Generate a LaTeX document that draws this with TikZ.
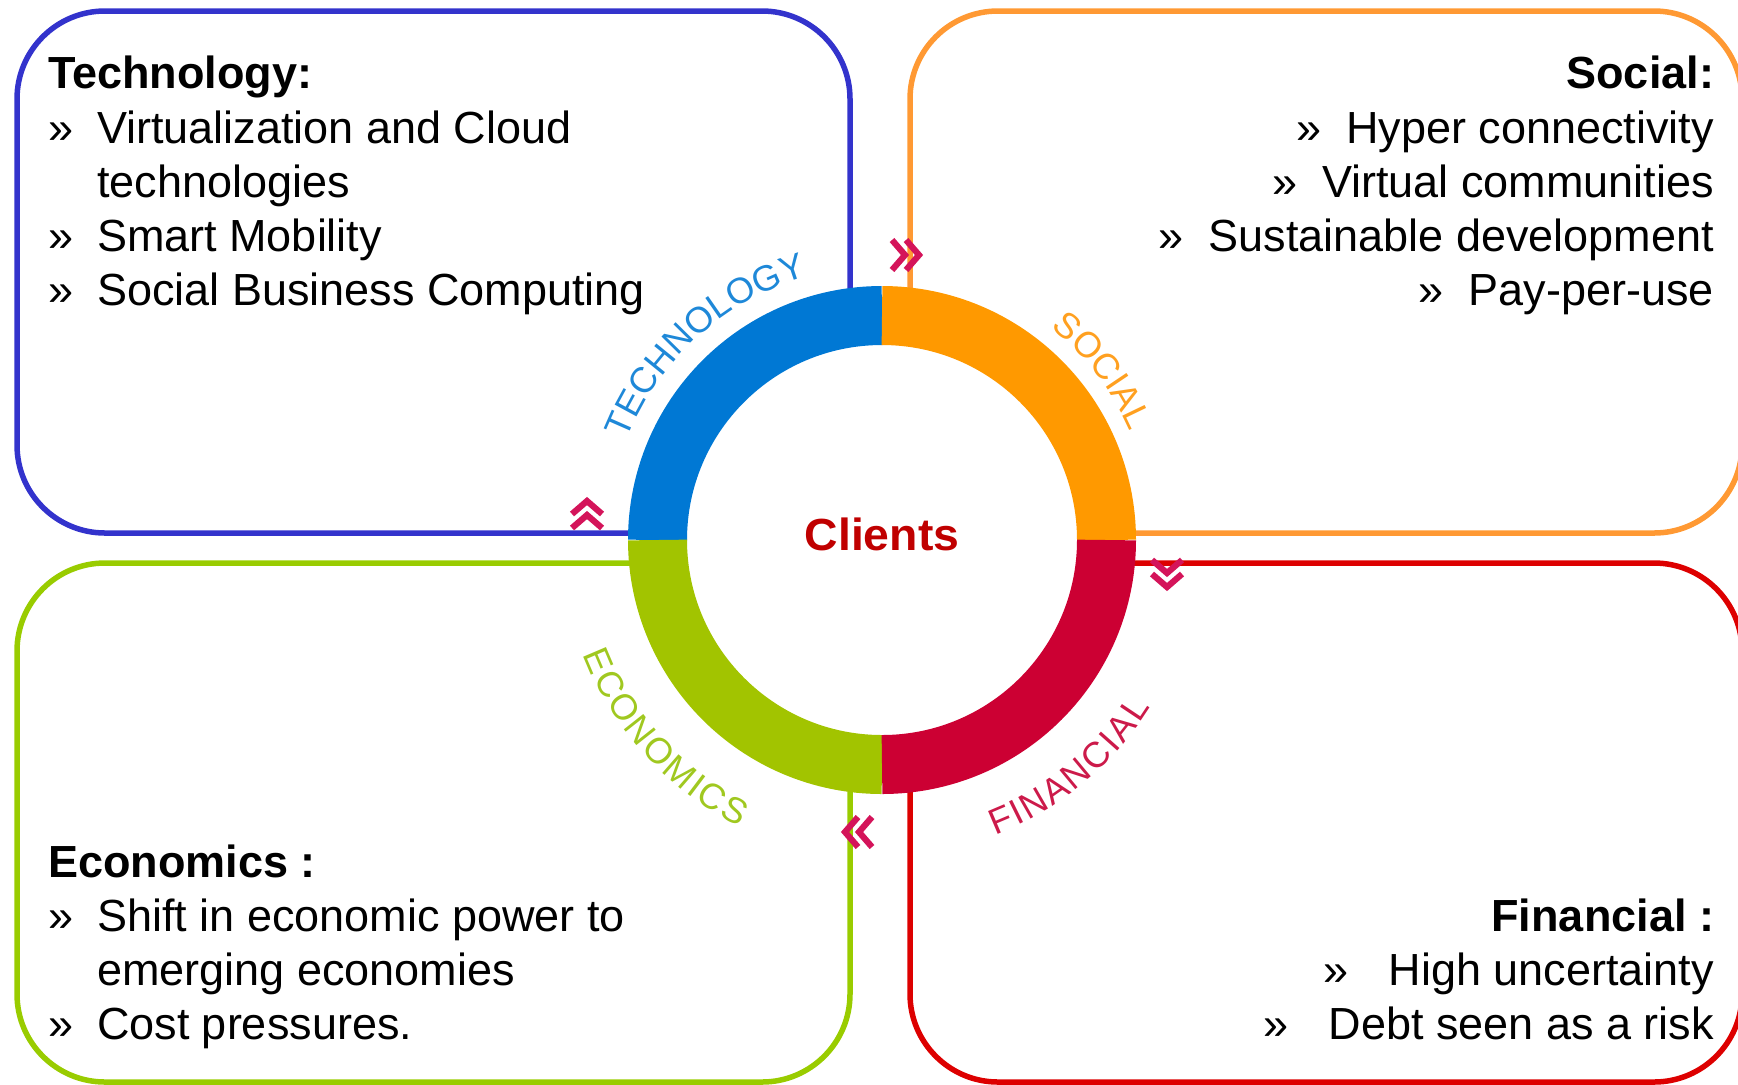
\documentclass[tikz,border=0pt]{standalone}
\usepackage{fontspec}
\setmainfont{Liberation Sans}
\usetikzlibrary{decorations.text}
\definecolor{bluebox}{HTML}{3333CC}
\definecolor{orangebox}{HTML}{FF9933}
\definecolor{greenbox}{HTML}{99CC00}
\definecolor{redbox}{HTML}{DD0000}
\definecolor{ringblue}{HTML}{0078D4}
\definecolor{ringorange}{HTML}{FF9900}
\definecolor{ringgreen}{HTML}{A2C400}
\definecolor{ringred}{HTML}{CC0033}
\definecolor{lbltech}{HTML}{1E88D8}
\definecolor{lblsoc}{HTML}{FFA020}
\definecolor{lblecon}{HTML}{A0C820}
\definecolor{lblfin}{HTML}{CC1A4A}
\definecolor{chev}{HTML}{D4145A}
\definecolor{clientred}{HTML}{C00000}
\newcommand\ringfont{\fontsize{18}{18}\selectfont}
\begin{document}
\begin{tikzpicture}[x=0.5pt,y=0.5pt,
  quad/.style={rectangle, draw=#1, line width=2.75pt, rounded corners=44pt,
    inner sep=0pt, outer sep=0pt},
  body/.style={inner sep=0pt, outer sep=0pt, font=\fontsize{22.5}{27}\selectfont},
  head/.style={inner sep=0pt, outer sep=0pt, font=\fontsize{22.5}{27}\selectfont\bfseries},
  ringseg/.style={line width=29.5pt},
  chevline/.style={draw=chev, line width=3.1pt, line join=miter},
  dchev/.pic={\draw[chevline] (-13,15) -- (0,0) -- (-13,-15);
              \draw[chevline] (1,15) -- (14,0) -- (1,-15);},
  ringlabel/.style args={#1/#2}{decorate, decoration={text along path,
    text={|\ringfont|#1}, text color=#2, text align={fit to path}}}
]
\useasboundingbox (0,0) rectangle (1738,-1084);
\clip (0,0) rectangle (1738,-1084);

% quadrant boxes
\node[quad=bluebox, minimum width=416.5pt, minimum height=261pt] (techbox) at (433.5,-272) {};
\node[quad=orangebox, minimum width=416pt, minimum height=261pt] (socbox) at (1326,-272) {};
\node[quad=greenbox, minimum width=416.5pt, minimum height=259.5pt] (econbox) at (433.5,-822.5) {};
\node[quad=redbox, minimum width=416pt, minimum height=259.5pt] (finbox) at (1326,-822.5) {};

% ring
\coordinate (C) at (882,-540);
\fill[white] (C) circle[radius=226];
\draw[ringseg, ringblue] ([shift={(90:224.5)}]C) arc[start angle=90, end angle=180, radius=224.5];
\draw[ringseg, ringorange] ([shift={(0:224.5)}]C) arc[start angle=0, end angle=90, radius=224.5];
\draw[ringseg, ringgreen] ([shift={(180:224.5)}]C) arc[start angle=180, end angle=270, radius=224.5];
\draw[ringseg, ringred] ([shift={(270:224.5)}]C) arc[start angle=270, end angle=360, radius=224.5];

% ring labels
\path[ringlabel={TECHNOLOGY/lbltech}] ([shift={(158.6:274)}]C) arc[start angle=158.6, end angle=108.4, radius=274];
\path[ringlabel={SOCIAL/lblsoc}] ([shift={(51.5:271)}]C) arc[start angle=51.5, end angle=25.2, radius=271];
\path[ringlabel={ECONOMICS/lblecon}] ([shift={(200.9:320)}]C) arc[start angle=200.9, end angle=243.5, radius=320];
\path[ringlabel={FINANCIAL/lblfin}] ([shift={(-69:316)}]C) arc[start angle=-69, end angle=-31.9, radius=316];

\node[font=\fontsize{22.5}{22.5}\selectfont\bfseries, text=clientred, anchor=base,
  inner sep=0pt, xscale=1.03] (clients) at (882,-550) {Clients};

% chevrons
\pic at (905,-255) {dchev};
\pic[rotate=-90] at (1167,-573) {dchev};
\pic[rotate=180] at (859,-832) {dchev};
\pic[rotate=90] at (587,-515) {dchev};

% Technology text
\node[head, anchor=base west] (th) at (48,-88) {Technology:};
\node[body, anchor=base west] (tb1) at (48,-143) {»};
\node[body, anchor=base west] (tt1) at (97,-143) {Virtualization and Cloud};
\node[body, anchor=base west] (tt1b) at (97,-197) {technologies};
\node[body, anchor=base west] (tb2) at (48,-251) {»};
\node[body, anchor=base west] (tt2) at (97,-251) {Smart Mobility};
\node[body, anchor=base west] (tb3) at (48,-305) {»};
\node[body, anchor=base west] (tt3) at (97,-305) {Social Business Computing};

% Social text
\node[head, anchor=base east] (sh) at (1714,-88) {Social:};
\node[body, anchor=base east] (st1) at (1714,-143) {Hyper connectivity};
\node[body, anchor=base east] (sb1) at ([xshift=-12.5pt]st1.base west) {»};
\node[body, anchor=base east] (st2) at (1714,-197) {Virtual communities};
\node[body, anchor=base east] (sb2) at ([xshift=-12.5pt]st2.base west) {»};
\node[body, anchor=base east] (st3) at (1714,-251) {Sustainable development};
\node[body, anchor=base east] (sb3) at ([xshift=-12.5pt]st3.base west) {»};
\node[body, anchor=base east] (st4) at (1714,-305) {Pay-per-use};
\node[body, anchor=base east] (sb4) at ([xshift=-12.5pt]st4.base west) {»};

% Economics text
\node[head, anchor=base west] (eh) at (48,-877) {Economics :};
\node[body, anchor=base west] (eb1) at (48,-931) {»};
\node[body, anchor=base west] (et1) at (97,-931) {Shift in economic power to};
\node[body, anchor=base west] (et1b) at (97,-985) {emerging economies};
\node[body, anchor=base west] (eb2) at (48,-1039) {»};
\node[body, anchor=base west] (et2) at (97,-1039) {Cost pressures.};

% Financial text
\node[head, anchor=base east] (fh) at (1714,-931) {Financial :};
\node[body, anchor=base east] (ft1) at (1714,-985) {High uncertainty};
\node[body, anchor=base east] (fb1) at ([xshift=-20pt]ft1.base west) {»};
\node[body, anchor=base east] (ft2) at (1714,-1039) {Debt seen as a risk};
\node[body, anchor=base east] (fb2) at ([xshift=-20pt]ft2.base west) {»};
\end{tikzpicture}
\end{document}
